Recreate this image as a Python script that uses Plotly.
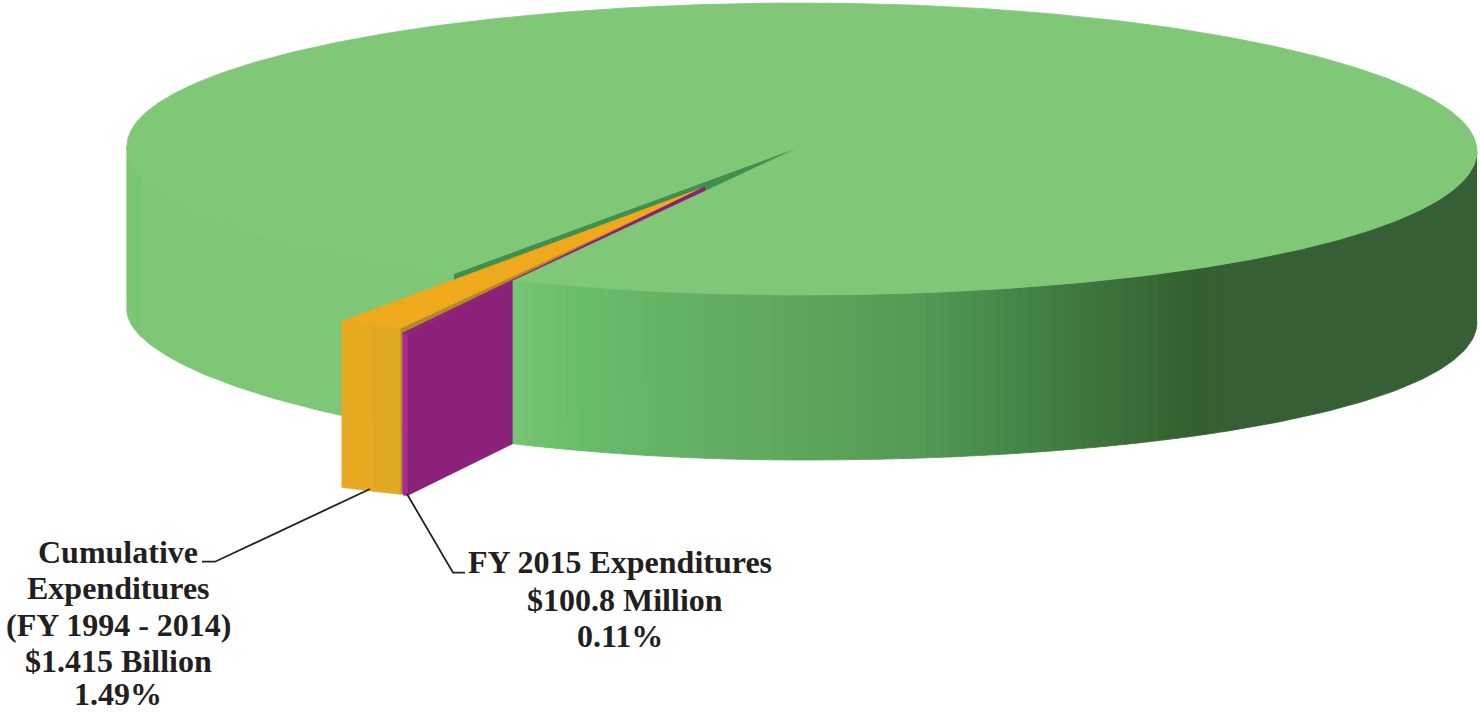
import numpy as np
import plotly.graph_objects as go

# ---- data -------------------------------------------------------------
slice_names = ["Remaining", "Cumulative Expenditures (FY 1994 - 2014)", "FY 2015 Expenditures"]
slice_shares = [98.40, 1.49, 0.11]
cumulative_lines = ["Cumulative", "Expenditures", "(FY 1994 - 2014)", "$1.415 Billion", "1.49%"]
fy2015_lines = ["FY 2015 Expenditures", "$100.8 Million", "0.11%"]

# side shading of the big slice: screen x -> colour
shade_x = [514, 582, 700, 800, 920, 1000, 1100, 1195, 1230, 1480]
shade_rgb = [(0x78, 0xc6, 0x75), (0x68, 0xbd, 0x6a), (0x63, 0xb0, 0x64), (0x5f, 0xa6, 0x5c),
             (0x55, 0x9a, 0x55), (0x47, 0x8a, 0x4a), (0x3e, 0x74, 0x3c), (0x33, 0x60, 0x2f),
             (0x36, 0x5f, 0x35), (0x36, 0x5f, 0x35)]

# ---- projection --------------------------------------------------------
CX, CY, A, B_FRONT, B_BACK, DEPTH = 802.0, 146.0, 675.0, 149.0, 143.0, 165.0
MAIN_END = 115.3                      # clockwise screen angle where the big slice starts/ends
main_gap = (slice_shares[1] + slice_shares[2]) * 3.6
MAIN_START = MAIN_END + main_gap
AX, AY = 705.0, 187.0                 # apex of the pulled-out slices
ORANGE_R, PURPLE_R = 1.05, 1.077
ORANGE_START = 115.45
PURPLE_END = 114.55


def big_rim(theta):
    """Top rim of the big slice, with the slight perspective of the drawing."""
    t = np.radians(theta)
    c, s = np.cos(t), np.sin(t)
    return CX + A * c, CY + np.where(s >= 0, B_FRONT, B_BACK) * s + 5 * np.clip(c, 0, None) ** 2


def big_depth(theta):
    t = np.radians(theta)
    c, s = np.cos(t), np.clip(np.sin(t), 0, None)
    return DEPTH + 6 * np.clip(c, 0, None) ** 2 - 11 * np.clip(-c, 0, None) ** 2 * np.sqrt(s)


def part_rim(theta, r):
    t = np.radians(theta)
    return AX + A * r * np.cos(t), AY + B_FRONT * r * np.sin(t)


fig = go.Figure()


def poly(xs, ys, color):
    fig.add_trace(go.Scatter(x=list(xs), y=list(ys), mode="lines", fill="toself", fillcolor=color,
                             line=dict(color=color, width=0.8), hoverinfo="skip", showlegend=False))


def shade(x):
    return "rgb(%d,%d,%d)" % tuple(np.interp(x, shade_x, [c[i] for c in shade_rgb]) for i in range(3))


def big_wall(t0, t1, color, n=8):
    ts = np.linspace(t0, t1, n)
    x, y = big_rim(ts)
    yb = y + big_depth(ts)
    poly(np.r_[x, x[::-1]], np.r_[y, yb[::-1]], color)


def part_wall(t0, t1, color, r, depth, n=8):
    ts = np.linspace(t0, t1, n)
    x, y = part_rim(ts, r)
    poly(np.r_[x, x[::-1]], np.r_[y, y[::-1] + depth], color)


def part_sector(t0, t1, color, r, n=30):
    x, y = part_rim(np.linspace(t0, t1, n), r)
    poly(np.r_[AX, x, AX], np.r_[AY, y, AY], color)


def part_cut(theta, color, r, depth):
    x, y = part_rim(theta, r)
    poly([AX, x, x, AX, AX], [AY, y, y + depth, AY + depth, AY], color)


# inner cut face of the big slice, seen through the gap
x0, y0 = big_rim(MAIN_START)
poly([CX, x0, x0, CX, CX], [CY, y0, y0 + DEPTH, CY + DEPTH, CY], "#3f8f4f")

# left outer wall of the big slice
big_wall(MAIN_START, 180.0, "#7ec777", n=80)
big_wall(168.0, 180.0, "#7ac675", n=16)

# pulled-out slices
orange_end = ORANGE_START + slice_shares[1] * 3.6
purple_start = PURPLE_END - slice_shares[2] * 3.6
part_cut(ORANGE_START, "#b5872d", ORANGE_R, 166)
part_wall(ORANGE_START, ORANGE_START + 2.6, "#e1a824", ORANGE_R, 166)
part_wall(ORANGE_START + 2.6, orange_end, "#e6a921", ORANGE_R, 166)
part_sector(ORANGE_START, orange_end, "#efa91c", ORANGE_R)
part_cut(purple_start, "#8b2178", PURPLE_R, 162)
part_wall(purple_start, PURPLE_END, "#a52a9a", PURPLE_R, 162)
part_sector(purple_start, PURPLE_END, "#8b2178", PURPLE_R)

# right outer wall of the big slice with its stepped shading
edges = np.r_[np.arange(MAIN_END, 0.0, -1.0), 0.0]
plain_from = np.degrees(np.arccos((1230 - CX) / A))
big_wall(0.0, plain_from, shade(1300), n=60)
for t0, t1 in zip(edges[:-1], edges[1:]):
    if t0 <= plain_from:
        continue
    xm, _ = big_rim((t0 + t1) / 2)
    big_wall(max(t1, plain_from), t0 + 0.05, shade(float(xm)), n=4)

# top of the big slice, drawn last so it hides the back of the purple face
ts = np.linspace(MAIN_START, MAIN_END + 360.0, 720)
xt, yt = big_rim(ts)
poly(np.r_[CX, xt, CX], np.r_[CY, yt, CY], "#80c878")

# leader lines
for lx, ly in (([202, 215, 370], [561.7, 561.7, 489]), ([407, 453, 465], [494, 572.7, 572.7])):
    fig.add_trace(go.Scatter(x=lx, y=ly, mode="lines", line=dict(color="#231f20", width=1.8),
                             hoverinfo="skip", showlegend=False))

# labels
TEXT = dict(family="Liberation Serif", size=32, color="#231f20")
notes = []
for s, yy in zip(cumulative_lines, [551.5, 587.5, 624.5, 660.5, 693.5]):
    notes.append(dict(x=118, y=yy, text="<b>%s</b>" % s, xref="x", yref="y", showarrow=False,
                      xanchor="center", yanchor="middle", font=TEXT))
for s, xx, yy in zip(fy2015_lines, [620, 625, 620], [561.5, 599.5, 635.5]):
    notes.append(dict(x=xx, y=yy, text="<b>%s</b>" % s, xref="x", yref="y", showarrow=False,
                      xanchor="center", yanchor="middle", font=TEXT))

fig.update_layout(width=1480, height=713, margin=dict(l=0, r=0, t=0, b=0), autosize=False,
                  paper_bgcolor="white", plot_bgcolor="white", annotations=notes, showlegend=False,
                  xaxis=dict(range=[0, 1480], visible=False, fixedrange=True),
                  yaxis=dict(range=[713, 0], visible=False, fixedrange=True))

fig.write_html("out.html", config=dict(displayModeBar=False),
               post_script="document.body.style.margin='0';document.documentElement.style.overflow='hidden';")
